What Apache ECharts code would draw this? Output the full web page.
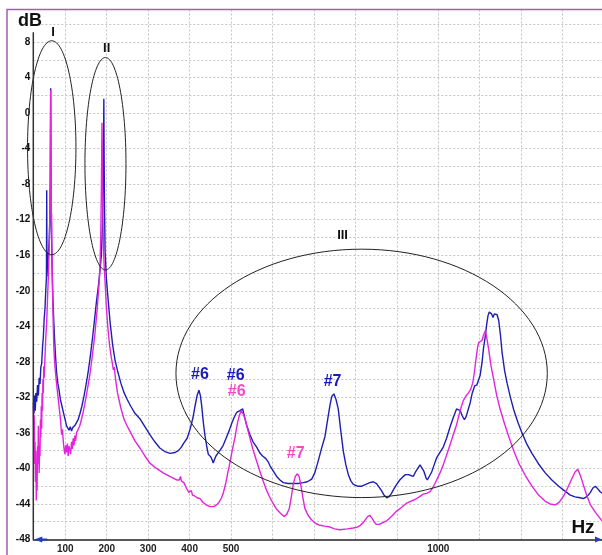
<!DOCTYPE html>
<html><head><meta charset="utf-8">
<script src="https://cdn.jsdelivr.net/npm/echarts@6/dist/echarts.min.js"></script>
<style>html,body{margin:0;padding:0;background:#fff}#c{width:602px;height:555px}</style>
</head><body><div id="c"></div>
<script>
// ---- axis definitions ----
const xRange = [22.8, 1395];          // Hz
const yRange = [-48, 11.66];          // dB
const xTickLabels = [100, 200, 300, 400, 500, 1000];
const yTickLabels = [8, 4, 0, -4, -8, -12, -16, -20, -24, -28, -32, -36, -40, -44, -48];

// ---- spectra [Hz, dB] ----
const blueSpectrum = [
[23,-32.6],[24.5,-33.8],[26,-31.8],[27.5,-33.5],[29,-31.5],[31,-32.5],[33,-30.6],[35,-31.8],[37,-29.8],[39,-30.5],
[41,-28.6],[43,-28.2],[45,-26.4],[47,-25.2],[49,-23.2],[51,-22.0],[53,-19.8],[54.5,-18.5],[55.2,-8.7],[55.8,-18.4],
[57,-17.2],[59,-16.0],[61,-14.5],[62.5,-12.5],[63.8,-8],[64.7,2.8],[65.5,-8],[66.5,-13],[68,-17],[70,-20.8],
[72,-23.2],[74,-25.3],[76,-27],[79,-29.2],[82,-30.4],[85,-31.2],[88,-32.2],[91,-32.8],[94,-33.4],[97,-34.0],
[100,-34.6],[103,-35.2],[106,-35.0],[109,-35.7],[112,-35.3],[115,-35.8],[118,-35.4],[121,-35.6],[124,-35.1],[127,-35.0],
[131,-34.5],[135,-33.9],[140,-33.0],[145,-31.9],[150,-30.6],[155,-29.2],[160,-27.5],[165,-25.6],[170,-23.5],[175,-21.3],
[180,-19.4],[184,-17.6],[187,-16],[189.5,-13],[191,-8],[192.5,-2],[193,1.6],[193.6,-4],[194.5,-10],[196,-15.5],
[199,-18.5],[203,-20.8],[208,-23.5],[214,-26],[220,-27.8],[226,-29],[234,-30.4],[242,-31.5],[250,-32.3],[258,-33.0],
[268,-33.8],[280,-34.4],[292,-35.3],[304,-36.2],[316,-37],[328,-37.7],[340,-38.1],[353,-38.3],[365,-38.2],[373,-38.0],
[380,-37.6],[385,-37.2],[388,-37.3],[394,-36.6],[401,-35.6],[408,-34.3],[413,-33.0],[418,-31.8],[422.5,-31.2],[426,-31.8],
[429,-32.9],[433,-34.8],[437,-36.3],[442,-37.7],[445,-38.4],[448,-38.2],[451,-38.7],[454,-39.0],[457,-39.4],[460,-39.0],
[463.5,-38.6],[468,-38.3],[473,-38.0],[481,-37.4],[489,-36.5],[495,-35.8],[501,-35.0],[507,-34.3],[513.5,-33.7],[518,-33.5],
[521.5,-33.5],[524,-33.3],[526,-33.6],[528,-33.3],[531,-33.9],[533.5,-34.4],[538,-35.2],[545.6,-36.2],[553,-37.0],[561.7,-37.6],
[570,-38.3],[576,-38.6],[580,-38.5],[584,-38.9],[590,-39.3],[594,-39.7],[602,-40.3],[610,-40.9],[618,-41.3],[626,-41.6],
[638,-41.7],[650,-41.7],[662,-41.7],[674,-41.6],[684,-41.5],[694.5,-41.2],[702,-40.5],[710,-39.2],[718,-37.8],[726.6,-36.4],
[733,-34.5],[738.6,-32.9],[743,-31.9],[748,-31.6],[753,-32.2],[758.6,-33.3],[764,-35.5],[771,-38.1],[777,-39.6],[783,-40.7],
[789,-41.4],[795,-41.8],[805,-42.0],[815,-42.0],[825,-41.8],[835,-41.6],[843,-41.5],[851,-41.7],[857,-42.1],[863,-42.5],
[869,-43.0],[875.5,-43.3],[881,-43.2],[887,-42.8],[893,-42.3],[899.6,-41.8],[907,-41.3],[915.5,-40.9],[921,-40.7],[927.6,-40.7],
[934,-40.8],[939.6,-40.9],[945,-40.4],[951.7,-39.9],[956,-39.6],[960,-39.6],[965,-40.3],[970,-41.0],[973.5,-41.3],[978,-41.2],
[984,-40.4],[990,-39.6],[996,-38.8],[1004,-38.2],[1012,-37.6],[1020,-36.6],[1028,-35.4],[1036,-34.3],[1044,-33.3],[1048,-33.1],
[1053,-33.5],[1058,-34.1],[1063,-34.5],[1067,-34.2],[1072,-33.4],[1077,-32.6],[1082,-31.5],[1088,-30.7],[1093,-30.6],[1097.5,-30.4],
[1101,-29.5],[1105.5,-28.1],[1109,-26.5],[1113.4,-25.1],[1117,-23.7],[1120,-22.8],[1123,-22.4],[1125.5,-22.3],[1128.5,-22.6],[1132,-23.0],
[1135.5,-22.6],[1139,-22.4],[1142,-22.7],[1146,-23.4],[1150,-25],[1154,-27],[1160,-29],[1166,-30.4],[1174,-32],[1182,-33.4],
[1192,-34.8],[1202,-36],[1214,-37.3],[1226,-38.3],[1242,-39.5],[1258,-40.5],[1274,-41.3],[1290.5,-42.0],[1304,-42.5],[1318.5,-43.0],
[1330,-43.2],[1342.6,-43.3],[1350,-43.4],[1357,-43.2],[1362,-43.0],[1367,-42.7],[1373,-42.2],[1379,-42.0],[1385,-42.3],[1390,-42.6],
[1395,-42.8]
];
const magentaSpectrum = [
[23,-33],[24,-36.5],[25,-34],[26,-39.5],[27,-37],[28,-41.5],[29,-38],[30,-43.6],[31,-40],[32,-42.5],
[33,-37.5],[34,-39.5],[35,-35.2],[36,-38],[37,-40.5],[38,-37.5],[39,-38.6],[40,-34.5],[41,-36.5],[42,-33],
[43,-35.5],[44,-31.5],[45,-33.5],[46,-30],[47,-31.5],[48,-28.5],[49,-29.8],[51,-27.4],[53,-25.2],[55,-23.7],
[57,-21],[59,-18.5],[61,-15.5],[62.5,-12],[63.8,-6],[64.8,2.6],[65.6,-6],[66.4,-12],[67,-11.3],[67.6,-15],
[69,-19.5],[71,-24],[72.6,-26.7],[75,-28.5],[79,-30.5],[83,-32.2],[87,-33.9],[89,-34.8],[91,-36.2],[93,-35.6],
[95,-36.9],[97,-37.8],[99,-38.4],[101,-37.4],[103,-38.2],[105,-37.2],[107,-38.6],[109,-37.5],[111,-37.3],[113,-38.4],
[115,-37.0],[117,-37.8],[119,-36.6],[121,-37.4],[123,-36.3],[125,-36.9],[127,-36.0],[131,-35.8],[135,-35.2],[140,-34.3],
[147,-32.8],[153,-31.2],[159.5,-29.4],[165,-27.4],[171.6,-24.8],[177,-22.0],[181,-19.5],[183.6,-17.5],[185.5,-14],[187,-9],
[188.5,-1.1],[189.3,-5],[190.5,-11],[192,-15],[194,-17.5],[196,-19],[199,-21.8],[203,-24.3],[207,-26.2],[211,-27.5],
[214,-28.3],[216,-28.9],[218,-28.6],[219.5,-29.2],[222,-30.2],[226,-31.5],[234,-33.2],[242,-34.5],[250,-35.3],[258,-36.0],
[268,-36.9],[280,-37.7],[292,-38.6],[304,-39.4],[320,-40.0],[336,-40.5],[352,-40.9],[368.7,-41.3],[375,-41.3],[378,-40.9],
[380,-41.4],[383,-41.2],[386,-41.6],[392,-42.2],[398,-42.7],[401,-42.8],[404,-42.5],[407,-43.0],[412,-43.1],[418,-43.3],
[425,-43.4],[432,-43.8],[440,-44.1],[449,-44.3],[458,-44.3],[465,-44.1],[471,-43.8],[477,-43.3],[481,-42.8],[487,-41.7],
[492,-40.5],[497,-39.4],[503,-37.9],[509.4,-36.5],[515,-35.0],[519,-34.2],[522,-33.8],[524,-33.5],[527,-33.5],[530,-33.9],
[533.5,-34.4],[539,-35.4],[545.6,-36.6],[553,-37.9],[561.7,-39.2],[570,-40.4],[578,-41.5],[586,-42.5],[594,-43.3],[602,-44.0],
[610,-44.6],[618,-45.0],[627.7,-45.4],[634,-45.2],[640.5,-44.5],[645,-43.3],[650,-41.8],[655,-40.9],[660,-40.6],[664,-40.9],
[668,-41.8],[673,-43.2],[678,-44.5],[686,-45.3],[694.5,-45.8],[704,-46.2],[714.5,-46.4],[726,-46.5],[738.6,-46.6],[750,-46.8],
[762.8,-46.9],[780,-46.8],[795,-46.7],[805,-46.6],[812,-46.4],[819,-46.1],[825,-45.7],[830,-45.4],[835,-45.3],[840,-45.6],
[845,-46.0],[850,-46.3],[857.6,-46.3],[866,-46.1],[875.5,-45.9],[887,-45.4],[899.6,-44.8],[911,-44.4],[923.8,-43.9],[933,-43.7],
[943.8,-43.5],[954,-43.2],[963.8,-42.9],[972,-42.8],[980,-42.6],[986,-42.2],[992,-41.7],[1000,-40.9],[1006,-40.3],[1012,-39.6],
[1020,-38.5],[1028,-37.4],[1036,-36.2],[1044,-35.1],[1052,-33.6],[1060,-32.4],[1066,-31.9],[1073,-31.5],[1078,-31.1],[1083,-30.4],
[1087,-29.2],[1091,-27.7],[1095,-26.3],[1098,-25.8],[1102,-25.8],[1105.5,-25.6],[1109,-25],[1113.4,-24.5],[1117,-25.3],[1121.6,-26.6],
[1127,-28.4],[1133.7,-30],[1141,-31.8],[1149.6,-33.4],[1160,-35],[1170,-36.4],[1182,-38],[1194,-39.4],[1210,-40.8],[1226,-42.0],
[1242,-43.0],[1258,-43.7],[1270,-44.0],[1282.5,-44.1],[1292,-43.8],[1302.6,-43.1],[1312,-42.2],[1322.7,-41.1],[1330,-40.4],[1336.4,-40.1],
[1342,-40.7],[1347,-41.4],[1351,-42.0],[1358,-43.0],[1367,-44.1],[1380,-45.0],[1395,-45.9]
];

// ---- annotations, in data units (Hz, dB) ----
const ellipseNames = ['I', 'II', 'III'];
const ellipseCenters = [[67.3, -3.9], [196.9, -5.7], [815, -29.3]];
const ellipseRadii = [[58.4, 12.04], [49.5, 11.95], [448, 13.98]];
const ellipseLabelAt = [[70.2, 9.1], [199.8, 7.3], [769, -13.8]];
const modeLabels = ['#6', '#6', '#6', '#7', '#7'];
const modeLabelAt = [[425, -29.4], [511, -29.6], [513.5, -31.4], [656, -38.3], [745, -30.2]];
const modeLabelSeries = [0, 0, 1, 1, 0];

const BLUE = '#1e1eb4', MAG = '#e424dc';
const LABEL_COLORS = ['#1a1ac0', '#f04cc8'];
const FONT = '"Liberation Sans", Arial, sans-serif';

const chart = echarts.init(document.getElementById('c'), null, {renderer: 'canvas'});
chart.setOption({
  animation: false,
  backgroundColor: '#fff',
  grid: {left: 33.3, right: 0, top: 9.5, bottom: 15.5, containLabel: false, outerBoundsMode: 'none'},
  xAxis: {
    type: 'value', min: xRange[0], max: xRange[1],
    splitNumber: 14, minInterval: 100, maxInterval: 100,
    axisLine: {show: true, onZero: false, lineStyle: {color: '#222', width: 1.5}},
    axisTick: {show: false},
    axisLabel: {
      interval: 0, margin: 5, color: '#222', fontSize: 10, fontWeight: 'bold', fontFamily: FONT,
      formatter: v => xTickLabels.includes(Math.round(v)) && Math.abs(v - Math.round(v)) < 1e-6 ? String(Math.round(v)) : ''
    },
    splitLine: {show: true, showMinLine: false, showMaxLine: false, lineStyle: {color: '#c4c4c4', type: [2, 2], width: 1}}
  },
  yAxis: {
    type: 'value', min: yRange[0], max: yRange[1], interval: 2,
    axisLine: {show: false, onZero: false},
    axisTick: {show: false},
    axisLabel: {
      margin: 3, color: '#111', fontSize: 10, fontWeight: 'bold', fontFamily: FONT,
      formatter: v => yTickLabels.includes(v) ? String(v) : ''
    },
    splitLine: {show: true, showMinLine: false, showMaxLine: false, lineStyle: {color: '#c4c4c4', type: [2, 2], width: 1}}
  },
  series: [
    {type: 'line', data: blueSpectrum, showSymbol: false, symbol: 'none', lineStyle: {color: BLUE, width: 1.4}, z: 3},
    {type: 'line', data: magentaSpectrum, showSymbol: false, symbol: 'none', lineStyle: {color: MAG, width: 1.4}, z: 4}
  ]
});

function px(p) { return chart.convertToPixel({gridIndex: 0}, p); }
const g = [];
// outer purple frame
g.push({type: 'rect', silent: true, z: 10, shape: {x: 7, y: 9.5, width: 620, height: 580},
  style: {fill: 'none', stroke: '#9d62ad', lineWidth: 1.5}});
// y axis line (from just below the dB label down to the x axis)
const yTop = px([xRange[0], 9.1]), yBot = px([xRange[0], yRange[0]]);
g.push({type: 'line', silent: true, z: 10, shape: {x1: yTop[0], y1: yTop[1], x2: yBot[0], y2: yBot[1]},
  style: {stroke: '#333', lineWidth: 1.5}});
// blue arrow heads at both ends of the x axis
const aL = px([xRange[0], yRange[0]]), aR = px([xRange[1], yRange[0]]);
g.push({type: 'polygon', silent: true, z: 11, shape: {points: [[aL[0] + 1, aL[1]], [aL[0] + 9, aL[1] - 3], [aL[0] + 9, aL[1] + 3]]}, style: {fill: '#2040c0'}});
g.push({type: 'line', silent: true, z: 11, shape: {x1: aL[0] + 8, y1: aL[1], x2: aL[0] + 14, y2: aL[1]}, style: {stroke: '#2040c0', lineWidth: 2}});
g.push({type: 'polygon', silent: true, z: 11, shape: {points: [[aR[0], aR[1]], [aR[0] - 7, aR[1] - 3], [aR[0] - 7, aR[1] + 3]]}, style: {fill: '#2040c0'}});
// axis unit labels
g.push({type: 'text', silent: true, z: 12, x: 30, y: 21,
  style: {text: 'dB', fill: '#111', font: 'bold 18px ' + FONT, align: 'center', verticalAlign: 'middle', textAlign: 'center', textVerticalAlign: 'middle'}});
g.push({type: 'text', silent: true, z: 12, x: 583, y: 528,
  style: {text: 'Hz', fill: '#111', font: 'bold 19px ' + FONT, align: 'center', verticalAlign: 'middle', textAlign: 'center', textVerticalAlign: 'middle'}});
// ellipses
ellipseCenters.forEach((c, i) => {
  const p = px(c);
  const rx = px([c[0] + ellipseRadii[i][0], c[1]])[0] - p[0];
  const ry = px([c[0], c[1] - ellipseRadii[i][1]])[1] - p[1];
  g.push({type: 'ellipse', silent: true, z: 5, shape: {cx: p[0], cy: p[1], rx: rx, ry: ry},
    style: {fill: 'none', stroke: '#222', lineWidth: 1}});
  const lp = px(ellipseLabelAt[i]);
  g.push({type: 'text', silent: true, z: 12, x: lp[0], y: lp[1],
    style: {text: ellipseNames[i], fill: '#111', font: 'bold 13px ' + FONT, align: 'center', verticalAlign: 'middle', textAlign: 'center', textVerticalAlign: 'middle'}});
});
// mode labels
modeLabels.forEach((t, i) => {
  const p = px(modeLabelAt[i]);
  g.push({type: 'text', silent: true, z: 12, x: p[0], y: p[1],
    style: {text: t, fill: LABEL_COLORS[modeLabelSeries[i]], font: 'bold 16px ' + FONT, align: 'center', verticalAlign: 'middle', textAlign: 'center', textVerticalAlign: 'middle'}});
});
chart.setOption({graphic: {elements: g}});
</script>
</body></html>
